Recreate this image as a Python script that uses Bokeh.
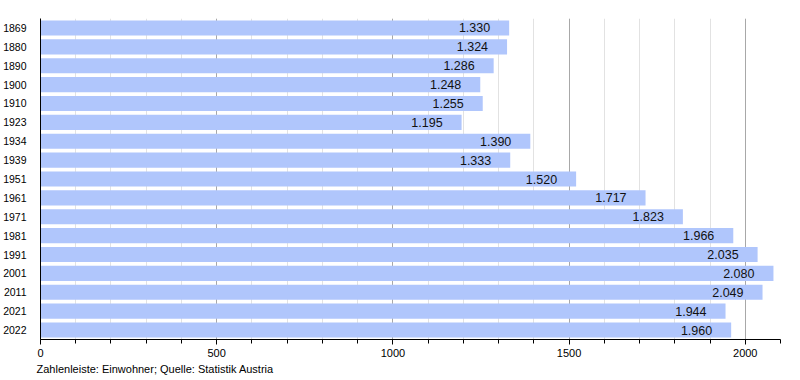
from bokeh.plotting import figure
from bokeh.models import ColumnDataSource, Range1d, FactorRange, SingleIntervalTicker, Title
from bokeh.core.properties import value
from bokeh.embed import file_html
from bokeh.resources import INLINE

years = ["1869", "1880", "1890", "1900", "1910", "1923", "1934", "1939", "1951",
         "1961", "1971", "1981", "1991", "2001", "2011", "2021", "2022"]
population = [1330, 1324, 1286, 1248, 1255, 1195, 1390, 1333, 1520,
              1717, 1823, 1966, 2035, 2080, 2049, 1944, 1960]
labels = ["{:,}".format(v).replace(",", ".") for v in population]

FONT = "Liberation Sans"

src = ColumnDataSource(dict(year=years, pop=population, label=labels))

p = figure(frame_width=740, frame_height=321,
           y_range=FactorRange(factors=list(reversed(years))),
           x_range=Range1d(0, 2100),
           output_backend="svg", toolbar_location=None,
           min_border_left=32, min_border_top=18, min_border_right=4, min_border_bottom=20)
p.outline_line_color = None
p.background_fill_color = "white"

p.hbar(y="year", right="pop", left=0, height=0.8, source=src,
       fill_color="#b0c6fc", line_color=None)
p.text(x="pop", y="year", text="label", source=src, text_align="right",
       text_baseline="middle", x_offset=-19, text_font=value(FONT),
       text_font_size="12.5px", text_color="#111111")

ticker = SingleIntervalTicker(interval=500, num_minor_ticks=5)
p.xaxis.ticker = ticker
p.xgrid.ticker = ticker
p.xgrid.grid_line_color = "#a8a8a8"
p.xgrid.grid_line_width = 1
p.xgrid.minor_grid_line_color = "#e2e2e2"
p.xgrid.level = "underlay"
p.ygrid.grid_line_color = None

p.xaxis.axis_line_color = "black"
p.xaxis.major_tick_line_color = "black"
p.xaxis.minor_tick_line_color = "black"
p.xaxis.major_tick_in = 0
p.xaxis.major_tick_out = 5
p.xaxis.minor_tick_in = 0
p.xaxis.minor_tick_out = 4
p.xaxis.major_label_text_font = FONT
p.xaxis.major_label_text_font_size = "11px"
p.xaxis.major_label_text_color = "black"
p.xaxis.major_label_standoff = 4

p.yaxis.axis_line_color = "black"
p.yaxis.major_tick_line_color = None
p.yaxis.minor_tick_line_color = None
p.yaxis.major_label_text_font = FONT
p.yaxis.major_label_text_font_size = "10.5px"
p.yaxis.major_label_text_color = "black"
p.yaxis.major_label_standoff = 8

cap = Title(text="Zahlenleiste: Einwohner; Quelle: Statistik Austria",
            text_font=FONT, text_font_size="11px", text_font_style="normal",
            text_color="black", align="left", offset=-4, standoff=2)
p.add_layout(cap, "below")

open("out.html", "w").write(file_html(p, INLINE))
